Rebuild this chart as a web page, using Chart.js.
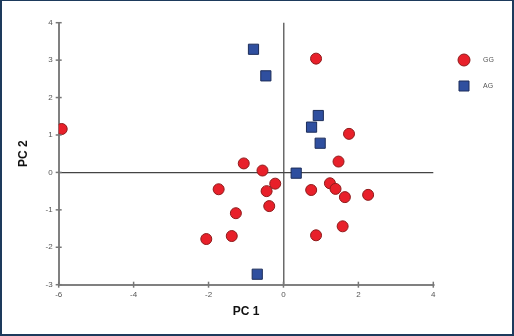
<!DOCTYPE html>
<html>
<head>
<meta charset="utf-8">
<script src="https://cdn.jsdelivr.net/npm/chart.js@4"></script>
<style>
  body { margin: 0; background: #fff; }
  #wrap { position: relative; width: 514px; height: 336px; }
  #grafico { position: absolute; left: 0; top: 0; }
  #marco {
    position: absolute; left: 0; top: 0; width: 514px; height: 336px;
    box-sizing: border-box; border: 2px solid #1d3a5c; border-top-width: 1px;
    pointer-events: none;
  }
</style>
</head>
<body>
<div id="wrap">
  <canvas id="grafico" width="514" height="336"></canvas>
  <div id="marco"></div>
</div>
<script>
// datos (PC 1, PC 2)
var ggX = [-5.92, 0.87, 1.75, 1.47, -1.06, -0.56, -0.22, -0.45, -1.73, -0.38,
           -1.27, -1.38, -2.06, 0.74, 1.24, 1.39, 1.64, 2.26, 1.58, 0.87];
var ggY = [1.16, 3.04, 1.03, 0.29, 0.24, 0.05, -0.30, -0.50, -0.45, -0.90,
           -1.09, -1.70, -1.78, -0.47, -0.29, -0.44, -0.66, -0.60, -1.44, -1.68];
var agX = [-0.80, -0.47, 0.93, 0.75, 0.98, 0.34, -0.70];
var agY = [3.29, 2.58, 1.52, 1.21, 0.78, -0.02, -2.72];
var xTicks = [-6, -4, -2, 0, 2, 4];
var yTicks = [-3, -2, -1, 0, 1, 2, 3, 4];
var grupos = ["GG", "AG"];

function puntos(xs, ys) {
  return xs.map(function (x, i) { return { x: x, y: ys[i] }; });
}

var estilos = [
  { pointStyle: "circle", pointRadius: 5.5, backgroundColor: "#e8202a", borderColor: "#8e1b1b" },
  { pointStyle: "rect", pointRadius: 7.2, backgroundColor: "#2f4f9f", borderColor: "#1c2d5a" }
];

// marcas de los ejes cruzando la linea, y leyenda a la derecha
var extras = {
  id: "extras",
  afterDraw: function (chart) {
    var ctx = chart.ctx;
    var sx = chart.scales.x, sy = chart.scales.y;
    var area = chart.chartArea;
    ctx.save();
    ctx.strokeStyle = "#777";
    ctx.lineWidth = 1.5;
    xTicks.forEach(function (v) {
      var px = sx.getPixelForValue(v);
      ctx.beginPath();
      ctx.moveTo(px, area.bottom - 3);
      ctx.lineTo(px, area.bottom + 3);
      ctx.stroke();
    });
    yTicks.forEach(function (v) {
      var py = sy.getPixelForValue(v);
      ctx.beginPath();
      ctx.moveTo(area.left - 3, py);
      ctx.lineTo(area.left + 3, py);
      ctx.stroke();
    });

    // leyenda
    ctx.font = "7px 'Liberation Sans', Arial, sans-serif";
    ctx.textAlign = "left";
    ctx.textBaseline = "middle";
    grupos.forEach(function (g, i) {
      var y = 60 + i * 26;
      var e = estilos[i];
      ctx.fillStyle = e.backgroundColor;
      ctx.strokeStyle = e.borderColor;
      ctx.lineWidth = 1;
      ctx.beginPath();
      if (e.pointStyle === "circle") {
        ctx.arc(464, y, 6, 0, Math.PI * 2);
      } else {
        ctx.rect(459, y - 5, 10, 10);
      }
      ctx.fill();
      ctx.stroke();
      ctx.fillStyle = "#555";
      ctx.fillText(g, 483, y);
    });
    ctx.restore();
  }
};

var ctx = document.getElementById("grafico").getContext("2d");
new Chart(ctx, {
  type: "scatter",
  data: {
    datasets: [
      Object.assign({ label: grupos[0], data: puntos(ggX, ggY), borderWidth: 1 }, estilos[0]),
      Object.assign({ label: grupos[1], data: puntos(agX, agY), borderWidth: 1 }, estilos[1])
    ]
  },
  options: {
    responsive: false,
    animation: false,
    layout: { padding: { left: 0, top: 22.7, right: 80.7, bottom: 0 } },
    plugins: { legend: { display: false }, tooltip: { enabled: false } },
    scales: {
      x: {
        type: "linear",
        position: "bottom",
        min: -6,
        max: 4,
        afterBuildTicks: function (s) { s.ticks = xTicks.map(function (v) { return { value: v }; }); },
        afterFit: function (s) { s.height = 336 - 284.7; },
        ticks: { font: { size: 8, family: "'Liberation Sans', Arial" }, color: "#555", padding: 5 },
        grid: {
          drawTicks: false,
          lineWidth: 1.5,
          color: function (c) { return c.tick && c.tick.value === 0 ? "#6a6a6a" : "rgba(0,0,0,0)"; }
        },
        border: { display: true, color: "#808080", width: 2 },
        title: {
          display: true,
          text: "PC 1",
          color: "#111",
          font: { size: 12, weight: "bold", family: "'Liberation Sans', Arial" },
          padding: { top: 0, bottom: 16.8 }
        }
      },
      y: {
        type: "linear",
        position: "left",
        min: -3,
        max: 4,
        afterBuildTicks: function (s) { s.ticks = yTicks.map(function (v) { return { value: v }; }); },
        afterFit: function (s) { s.width = 58.7; },
        ticks: { font: { size: 8, family: "'Liberation Sans', Arial" }, color: "#555", padding: 6 },
        grid: {
          drawTicks: false,
          lineWidth: 1.2,
          color: function (c) { return c.tick && c.tick.value === 0 ? "#444" : "rgba(0,0,0,0)"; }
        },
        border: { display: true, color: "#808080", width: 2 },
        title: {
          display: true,
          text: "PC 2",
          color: "#111",
          font: { size: 12, weight: "bold", family: "'Liberation Sans', Arial" },
          padding: { top: 16.8, bottom: 0 }
        }
      }
    }
  },
  plugins: [extras]
});
</script>
</body>
</html>
